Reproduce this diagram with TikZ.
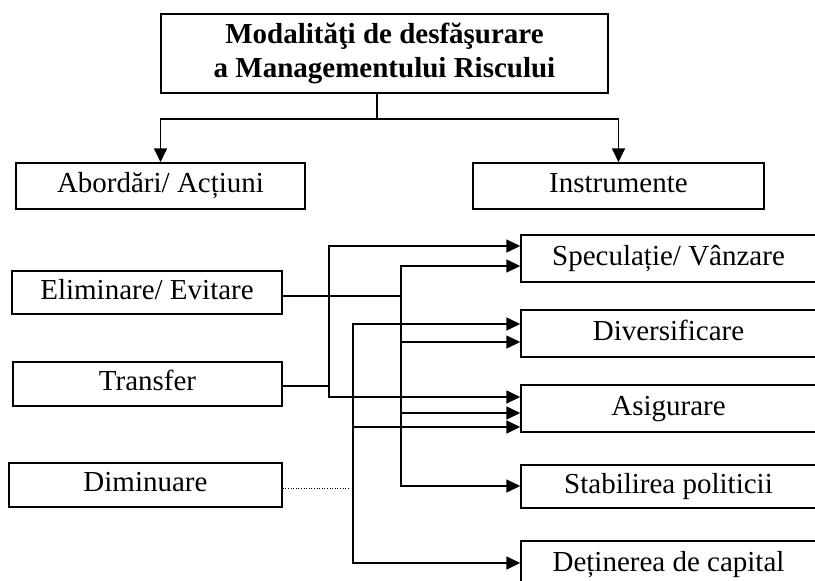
\documentclass[tikz,border=0pt]{standalone}
\usepackage{fontspec}
\setmainfont{Liberation Serif}
\usetikzlibrary{arrows.meta}
\begin{document}
\begin{tikzpicture}[x=1pt,y=-1pt,
  box/.style={draw, line width=1.5pt, inner sep=0pt, align=center,
              font=\fontsize{29}{34}\selectfont},
  item/.style={box, text height=20pt, text depth=7pt},
  link/.style={line width=1.7pt, line cap=rect},
  arr/.style={link, -{Triangle[length=14pt,width=13pt]}},
  dots/.style={line width=1pt, dash pattern=on 1pt off 1.6pt}]
\clip (0,0) rectangle (815,581);

% title and the two main branches
\node[box, minimum width=447pt, minimum height=79pt] (top) at (384.5,53.5)
  {\textbf{Modalităţi de desfăşurare}\\\textbf{a Managementului Riscului}};
\node[item, minimum width=289pt, minimum height=46pt] (abord) at (160.5,186) {Abordări/ Acțiuni};
\node[item, minimum width=291pt, minimum height=46pt] (instr) at (618.5,186) {Instrumente};

% actions (left column)
\node[item, minimum width=270pt, minimum height=43pt] (elim)   at (147,292.5) {Eliminare/ Evitare};
\node[item, minimum width=269pt, minimum height=44pt] (transf) at (147.5,384) {Transfer};
\node[item, minimum width=273pt, minimum height=44pt] (dimin)  at (145.5,485) {Diminuare};

% instruments (right column)
\node[item, minimum width=295pt, minimum height=47pt] (spec) at (668.5,258.5) {Speculație/ Vânzare};
\node[item, minimum width=295pt, minimum height=47pt] (div)  at (668.5,333.5) {Diversificare};
\node[item, minimum width=295pt, minimum height=47pt] (asig) at (668.5,408.5) {Asigurare};
\node[item, minimum width=295pt, minimum height=43pt] (stab) at (668.5,486.5) {Stabilirea politicii};
\node[item, minimum width=295pt, minimum height=47pt] (det)  at (668.5,564.5) {Deținerea de capital};

% fork under the title
\coordinate (fork) at (377,119);
\draw[link] (top.south -| fork) -- (fork);
\draw[arr] (fork) -| (abord.north);
\draw[arr] (fork) -| (instr.north);

% bus fed by "Eliminare/ Evitare"
\coordinate (a1) at (401,266);
\coordinate (a2) at (401,486);
\draw[link] (elim.east |- 0,296) -- (a1 |- 0,296);
\draw[arr] (a2) |- (spec.west |- a1);
\draw[arr] (a1 |- 0,342) -- (div.west |- 0,342);
\draw[arr] (a1 |- 0,413) -- (asig.west |- 0,413);
\draw[arr] (a2) -- (stab.west |- a2);

% bus fed by "Transfer"
\coordinate (b1) at (329,246);
\coordinate (b2) at (329,397);
\draw[link] (transf.east |- 0,386) -- (b2 |- 0,386);
\draw[arr] (b2) |- (spec.west |- b1);
\draw[arr] (b2) -- (asig.west |- b2);

% bus linked to "Diminuare"
\coordinate (c1) at (353,324);
\coordinate (c2) at (353,563);
\draw[dots] (dimin.east |- 0,488) -- (350,488);
\draw[arr] (c2) |- (div.west |- c1);
\draw[arr] (c1 |- 0,427) -- (asig.west |- 0,427);
\draw[arr] (c2) -- (det.west |- c2);
\end{tikzpicture}
\end{document}
